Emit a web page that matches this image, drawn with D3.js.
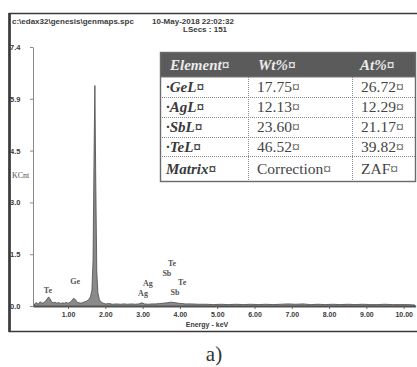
<!DOCTYPE html>
<html>
<head>
<meta charset="utf-8">
<script src="https://cdn.jsdelivr.net/npm/d3@7"></script>
<style>
  body { margin: 0; background: #fff; }
  svg { display: block; }
</style>
</head>
<body>
<svg width="417" height="367"></svg>
<script>
// Spectrum data (energy in keV, counts in kCnt).
const energy = [0.10, 0.15, 0.20, 0.25, 0.30, 0.35, 0.40, 0.45, 0.48, 0.52, 0.56, 0.60, 0.65, 0.70, 0.75,
                0.80, 0.85, 0.90, 0.95, 1.00, 1.05, 1.10, 1.15, 1.20, 1.25, 1.30, 1.35, 1.40, 1.45, 1.50,
                1.55, 1.60, 1.64, 1.67, 1.70, 1.72, 1.74, 1.77, 1.80, 1.84, 1.90, 1.95, 2.00, 2.10, 2.20,
                2.30, 2.40, 2.50, 2.60, 2.70, 2.80, 2.90, 2.98, 3.05, 3.15, 3.25, 3.35, 3.45, 3.55, 3.65,
                3.75, 3.85, 3.95, 4.05, 4.15, 4.30, 4.50, 4.70, 4.90, 5.10, 5.30, 5.50, 5.70, 5.90, 6.10,
                6.30, 6.50, 6.70, 6.90, 7.10, 7.30, 7.50, 7.70, 7.90, 8.10, 8.30, 8.50, 8.70, 8.90, 9.10,
                9.30, 9.50, 9.70, 9.90, 10.10, 10.30];
const counts = [0.06, 0.10, 0.05, 0.12, 0.08, 0.10, 0.14, 0.22, 0.26, 0.20, 0.12, 0.09, 0.11, 0.08, 0.10,
                0.07, 0.09, 0.08, 0.10, 0.08, 0.10, 0.16, 0.22, 0.18, 0.10, 0.09, 0.08, 0.10, 0.12, 0.14,
                0.18, 0.26, 0.45, 1.30, 4.60, 6.30, 3.90, 1.00, 0.38, 0.18, 0.10, 0.08, 0.06, 0.07, 0.05,
                0.06, 0.05, 0.06, 0.05, 0.06, 0.05, 0.06, 0.09, 0.06, 0.05, 0.06, 0.06, 0.07, 0.08, 0.09,
                0.11, 0.10, 0.08, 0.07, 0.06, 0.06, 0.05, 0.05, 0.04, 0.05, 0.04, 0.05, 0.04, 0.05, 0.04,
                0.05, 0.04, 0.05, 0.06, 0.05, 0.06, 0.04, 0.05, 0.04, 0.05, 0.04, 0.05, 0.04, 0.05, 0.04,
                0.04, 0.05, 0.04, 0.04, 0.04, 0.03];

// Peak labels: element, line energy, label height (kCnt).
const peakNames = ["Te", "Ge", "Ag", "Ag", "Sb", "Te", "Te", "Sb"];
const peakEnergy = [0.46, 1.19, 3.01, 3.14, 3.65, 3.79, 4.06, 3.87];
const peakLabelY = [0.46, 0.72, 0.37, 0.66, 0.95, 1.23, 0.69, 0.40];

// Axis ticks.
const xTicks = [1, 2, 3, 4, 5, 6, 7, 8, 9, 10];
const yTicks = [0, 1.48, 2.96, 4.44, 5.92, 7.4];
const yTickLabels = ["0.0", "1.5", "3.0", "4.5", "5.9", "7.4"];

// Quantification table.
const tableHeader = ["Element\u00a4", "Wt%\u00a4", "At%\u00a4"];
const elements = ["\u00b7GeL\u00a4", "\u00b7AgL\u00a4", "\u00b7SbL\u00a4", "\u00b7TeL\u00a4", "Matrix\u00a4"];
const wtPct = ["17.75\u00a4", "12.13\u00a4", "23.60\u00a4", "46.52\u00a4", "Correction\u00a4"];
const atPct = ["26.72\u00a4", "12.29\u00a4", "21.17\u00a4", "39.82\u00a4", "ZAF\u00a4"];

const svg = d3.select("svg");
const sans = "'Liberation Sans', Arial, sans-serif";
const serif = "'Liberation Serif', 'Times New Roman', serif";

// Scales
const xScale = d3.scaleLinear().domain([0.06, 10.32]).range([33, 415.6]);
const yScale = d3.scaleLinear().domain([0, 7.4]).range([306, 47]);

// Outer frame of the EDAX printout (open on the right)
svg.append("path")
   .attr("d", "M417,13.5 H9.5 V331.5 H417")
   .attr("fill", "none")
   .attr("stroke", "#3a3a3a")
   .attr("stroke-width", 1.6);
svg.append("line")
   .attr("x1", 9.5).attr("x2", 9.5).attr("y1", 13).attr("y2", 332)
   .attr("stroke", "#3a3a3a").attr("stroke-width", 2.6);

// Header texts
svg.append("text").attr("x", 12).attr("y", 24)
   .style("font-family", sans).style("font-size", "8px").style("font-weight", "bold").style("fill", "#3c3c3c")
   .text("c:\\edax32\\genesis\\genmaps.spc");
svg.append("text").attr("x", 152).attr("y", 24)
   .style("font-family", sans).style("font-size", "8px").style("font-weight", "bold").style("fill", "#3c3c3c")
   .text("10-May-2018 22:02:32");
svg.append("text").attr("x", 183).attr("y", 32)
   .style("font-family", sans).style("font-size", "8px").style("font-weight", "bold").style("fill", "#3c3c3c")
   .text("LSecs : 151");

// Y Axis
const yAxis = svg.append("g")
   .attr("class", "y-axis")
   .attr("transform", `translate(${xScale(0.06)},0)`)
   .call(d3.axisLeft(yScale).tickValues(yTicks).tickFormat((d, i) => yTickLabels[i]).tickSize(3).tickSizeOuter(0));
yAxis.selectAll("text")
     .attr("x", 10 - xScale(0.06))
     .attr("text-anchor", "start")
     .style("font-family", sans).style("font-size", "7.5px").style("font-weight", "bold").style("fill", "#3a3a3a");
yAxis.selectAll("path, line").style("stroke", "#8a8a8a");

svg.append("text").attr("x", 12).attr("y", 178)
   .style("font-family", serif).style("font-size", "8px").style("fill", "#555")
   .text("KCnt");

// X Axis
const xAxis = svg.append("g")
   .attr("class", "x-axis")
   .attr("transform", `translate(0,${yScale(0)})`)
   .call(d3.axisBottom(xScale).tickValues(xTicks).tickFormat(d => d.toFixed(2)).tickSize(3).tickPadding(3).tickSizeOuter(0));
xAxis.selectAll("text")
     .style("font-family", sans).style("font-size", "7px").style("font-weight", "bold").style("fill", "#3a3a3a");
xAxis.selectAll("line").style("stroke", "#666");
xAxis.select(".domain").style("stroke", "#555").style("stroke-width", 1.8);

svg.append("text").attr("x", 207).attr("y", 327).attr("text-anchor", "middle")
   .style("font-family", sans).style("font-size", "7px").style("font-weight", "bold").style("fill", "#3a3a3a")
   .text("Energy - keV");

// Spectrum
const spectrum = d3.zip(energy, counts);
svg.append("path")
   .datum(spectrum)
   .attr("fill", "#8a8a8a")
   .attr("stroke", "#4a4a4a")
   .attr("stroke-width", 0.8)
   .attr("d", d3.area().x(d => xScale(d[0])).y0(yScale(0)).y1(d => yScale(d[1])));

// Peak labels
svg.selectAll(".peak-label")
   .data(d3.zip(peakNames, peakEnergy, peakLabelY))
   .enter()
   .append("text")
   .attr("class", "peak-label")
   .attr("x", d => xScale(d[1]))
   .attr("y", d => yScale(d[2]))
   .attr("dy", "0.35em")
   .attr("text-anchor", "middle")
   .style("font-family", serif).style("font-size", "8px").style("font-weight", "bold").style("fill", "#555")
   .text(d => d[0]);

// Quantification table
const colX = [160, 248, 352, 416];
const rowY = [52, 77, 97, 117, 137, 156, 182];
const table = svg.append("g");

table.append("rect")
     .attr("x", colX[0]).attr("y", rowY[0])
     .attr("width", colX[3] - colX[0]).attr("height", rowY[6] - rowY[0])
     .attr("fill", "#fff");
table.append("rect")
     .attr("x", colX[0]).attr("y", rowY[0])
     .attr("width", colX[3] - colX[0]).attr("height", rowY[1] - rowY[0])
     .attr("fill", "#5b5b5b");

// inner grid lines (dotted)
rowY.slice(2, 6).forEach(y => {
  table.append("line").attr("x1", colX[0]).attr("x2", colX[3]).attr("y1", y + 0.5).attr("y2", y + 0.5)
       .attr("stroke", "#8c8c8c").attr("stroke-dasharray", "1,1");
});
colX.slice(1, 3).forEach(x => {
  table.append("line").attr("x1", x + 0.5).attr("x2", x + 0.5).attr("y1", rowY[1]).attr("y2", rowY[6])
       .attr("stroke", "#8c8c8c").attr("stroke-dasharray", "1,1");
});
table.append("rect")
     .attr("x", colX[0] + 0.5).attr("y", rowY[0] + 0.5)
     .attr("width", colX[3] - colX[0] - 1).attr("height", rowY[6] - rowY[0] - 1)
     .attr("fill", "none").attr("stroke", "#6a6a6a").attr("stroke-width", 1.4);
table.append("line").attr("x1", colX[0]).attr("x2", colX[3]).attr("y1", rowY[1]).attr("y2", rowY[1])
     .attr("stroke", "#777").attr("stroke-width", 1);

// header texts
table.selectAll(".th")
     .data(tableHeader)
     .enter()
     .append("text")
     .attr("class", "th")
     .attr("x", (d, i) => [170, 258, 360][i])
     .attr("y", (rowY[0] + rowY[1]) / 2)
     .attr("dy", "0.35em")
     .style("font-family", serif).style("font-size", "15px").style("font-style", "italic").style("font-weight", "bold")
     .style("fill", "#ececec")
     .text(d => d);

// body texts
const rowMid = i => (rowY[i + 1] + rowY[i + 2]) / 2;
table.selectAll(".el")
     .data(elements)
     .enter()
     .append("text")
     .attr("class", "el")
     .attr("x", 166)
     .attr("y", (d, i) => rowMid(i))
     .attr("dy", "0.35em")
     .style("font-family", serif).style("font-size", "15px").style("font-style", "italic").style("font-weight", "bold")
     .style("fill", "#3a3a3a")
     .text(d => d);
table.selectAll(".wt")
     .data(wtPct)
     .enter()
     .append("text")
     .attr("class", "wt")
     .attr("x", 257)
     .attr("y", (d, i) => rowMid(i))
     .attr("dy", "0.35em")
     .style("font-family", serif).style("font-size", "15.5px")
     .style("fill", "#444")
     .text(d => d);
table.selectAll(".at")
     .data(atPct)
     .enter()
     .append("text")
     .attr("class", "at")
     .attr("x", 361)
     .attr("y", (d, i) => rowMid(i))
     .attr("dy", "0.35em")
     .style("font-family", serif).style("font-size", "15.5px")
     .style("fill", "#444")
     .text(d => d);

// Panel label
svg.append("text").attr("x", 214).attr("y", 361).attr("text-anchor", "middle")
   .style("font-family", serif).style("font-size", "21px").style("fill", "#333")
   .text("a)");
</script>
</body>
</html>
